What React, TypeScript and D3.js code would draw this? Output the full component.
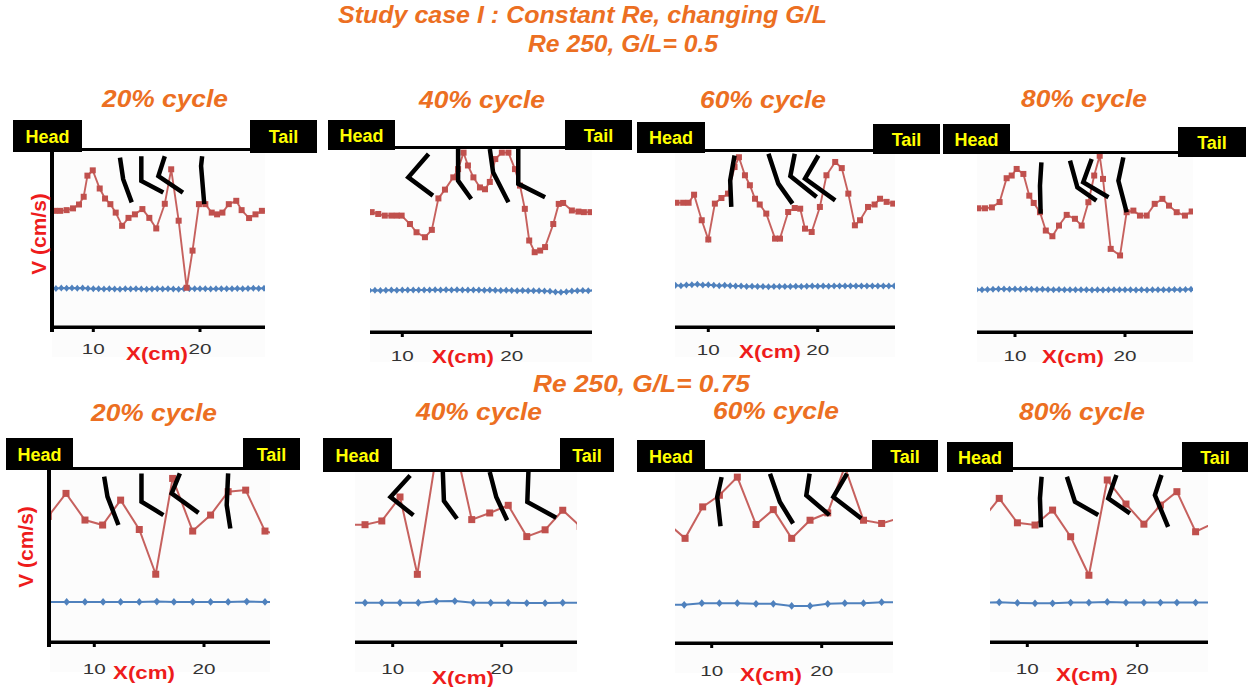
import React from 'react';
import * as d3 from 'd3';

// ---------- text ----------
const mainTitle = 'Study case I : Constant Re, changing G/L';
const caseTitles = ['Re 250, G/L= 0.5', 'Re 250, G/L= 0.75'];
const cycleLabels = ['20% cycle', '40% cycle', '60% cycle', '80% cycle'];
const xTicks = [10, 20];
const xAxisLabel = 'X(cm)';
const yAxisLabel = 'V (cm/s)';

// ---------- data (x in cm, V in plot units) ----------
const blueXTop = [6.0, 6.5, 7.0, 7.5, 8.0, 8.5, 9.0, 9.5, 10.0, 10.5, 11.0, 11.5, 12.0, 12.5, 13.0, 13.5, 14.0, 14.5, 15.0, 15.5, 16.0, 16.5, 17.0, 17.5, 18.0, 18.5, 19.0, 19.5, 20.0, 20.5, 21.0, 21.5, 22.0, 22.5, 23.0, 23.5, 24.0, 24.5, 25.0, 25.5, 26.0, 26.5, 27.0, 27.5];

const blueV_05_20 = [2.20, 2.19, 2.21, 2.20, 2.21, 2.20, 2.21, 2.19, 2.18, 2.17, 2.16, 2.17, 2.16, 2.15, 2.17, 2.16, 2.17, 2.16, 2.15, 2.16, 2.17, 2.16, 2.17, 2.16, 2.15, 2.17, 2.18, 2.17, 2.18, 2.17, 2.16, 2.17, 2.18, 2.17, 2.18, 2.19, 2.18, 2.19, 2.20, 2.19, 2.20, 2.19, 2.20, 2.19];
const blueV_05_40 = [2.27, 2.26, 2.27, 2.28, 2.27, 2.28, 2.29, 2.28, 2.29, 2.30, 2.29, 2.30, 2.29, 2.30, 2.31, 2.30, 2.31, 2.30, 2.31, 2.30, 2.29, 2.30, 2.29, 2.28, 2.29, 2.28, 2.27, 2.28, 2.27, 2.26, 2.27, 2.26, 2.25, 2.26, 2.24, 2.22, 2.19, 2.17, 2.20, 2.24, 2.26, 2.27, 2.26, 2.27];
const blueV_05_60 = [2.36, 2.37, 2.38, 2.36, 2.40, 2.42, 2.44, 2.40, 2.41, 2.38, 2.36, 2.38, 2.36, 2.35, 2.34, 2.32, 2.33, 2.31, 2.32, 2.30, 2.31, 2.32, 2.31, 2.32, 2.33, 2.32, 2.33, 2.34, 2.33, 2.34, 2.33, 2.34, 2.35, 2.34, 2.35, 2.34, 2.35, 2.34, 2.35, 2.34, 2.35, 2.34, 2.35, 2.34];
const blueV_05_80 = [2.39, 2.38, 2.37, 2.39, 2.40, 2.42, 2.41, 2.40, 2.41, 2.40, 2.41, 2.40, 2.39, 2.40, 2.39, 2.38, 2.39, 2.38, 2.37, 2.38, 2.37, 2.38, 2.36, 2.37, 2.36, 2.37, 2.38, 2.37, 2.38, 2.37, 2.36, 2.37, 2.36, 2.37, 2.38, 2.37, 2.38, 2.39, 2.38, 2.39, 2.40, 2.39, 2.40, 2.39];

const red_05_20 = [[6.4, 6.6], [6.9, 6.6], [7.5, 6.64], [8.1, 6.74], [8.66, 6.96], [9.1, 7.4], [9.45, 8.6], [9.95, 8.9], [10.6, 7.87], [11.1, 7.3], [11.6, 6.98], [12.1, 6.5], [12.7, 5.75], [13.3, 6.2], [13.9, 6.4], [14.6, 6.7], [15.25, 6.2], [15.9, 5.6], [16.7, 7.0], [17.3, 8.96], [18.0, 6.04], [18.75, 2.23], [19.3, 4.34], [19.9, 6.98], [20.5, 6.98], [21.1, 6.5], [21.6, 6.4], [22.1, 6.5], [22.7, 6.98], [23.4, 7.17], [23.9, 6.64], [24.6, 6.19], [25.2, 6.4], [25.8, 6.6], [26.4, 6.55]];
const red_05_40 = [[6.8, 6.55], [7.2, 6.55], [7.8, 6.45], [8.4, 6.36], [9.0, 6.36], [9.5, 6.36], [9.94, 6.36], [10.7, 5.9], [11.3, 5.45], [12.07, 5.18], [12.7, 5.58], [13.3, 7.3], [13.9, 7.78], [14.66, 8.45], [15.1, 8.9], [15.6, 9.8], [16.0, 9.1], [16.5, 8.45], [17.1, 7.9], [17.56, 7.8], [18.0, 8.2], [18.5, 9.45], [19.1, 9.8], [19.7, 9.8], [20.3, 8.9], [20.76, 8.0], [21.2, 6.73], [21.6, 5.0], [22.1, 4.36], [22.6, 4.45], [23.05, 4.64], [23.8, 5.9], [24.3, 7.0], [24.7, 7.05], [25.5, 6.64], [26.1, 6.58], [26.6, 6.55], [27.2, 6.55]];
const red_05_60 = [[6.6, 7.1], [7.1, 7.1], [7.7, 7.1], [8.2, 7.1], [8.7, 7.56], [9.4, 6.1], [10.0, 5.0], [10.6, 7.05], [11.2, 7.37], [11.8, 7.62], [12.4, 9.14], [12.8, 9.7], [13.35, 8.67], [13.8, 8.1], [14.27, 7.33], [14.7, 7.0], [15.3, 6.48], [16.1, 5.05], [16.55, 5.05], [17.3, 6.57], [17.9, 6.8], [18.4, 6.76], [18.84, 5.62], [19.45, 5.43], [20.2, 6.86], [20.8, 8.67], [21.6, 9.43], [22.2, 9.08], [22.8, 7.62], [23.4, 5.81], [23.87, 6.1], [24.6, 6.86], [25.2, 7.0], [25.7, 7.33], [26.3, 7.15], [26.9, 7.05]];
const red_05_80 = [[6.2, 6.95], [6.67, 6.95], [7.27, 6.95], [7.9, 7.0], [8.6, 7.3], [9.24, 8.64], [9.7, 8.79], [10.15, 9.16], [10.76, 8.88], [11.3, 7.66], [11.7, 7.25], [12.27, 6.73], [12.8, 5.7], [13.4, 5.38], [14.0, 5.98], [14.7, 6.58], [15.45, 6.36], [16.06, 5.98], [16.67, 7.29], [17.2, 8.79], [17.7, 9.9], [18.0, 8.6], [18.7, 4.67], [19.55, 4.3], [20.15, 6.73], [20.76, 6.82], [21.36, 6.54], [21.97, 6.54], [22.7, 7.2], [23.4, 7.48], [24.0, 7.1], [24.7, 6.73], [25.45, 6.54], [26.06, 6.77], [26.6, 6.8]];

const blueX_075_20 = [5.8, 7.48, 9.15, 10.8, 12.4, 14.1, 15.7, 17.26, 18.97, 20.6, 22.2, 23.9, 25.56, 27.2];
const blueV_075_20 = [2.33, 2.33, 2.33, 2.33, 2.33, 2.33, 2.35, 2.33, 2.33, 2.33, 2.33, 2.35, 2.33, 2.33];
const blueX_075_40 = [6.0, 7.46, 9.0, 10.67, 12.35, 14.0, 15.7, 17.4, 18.99, 20.6, 22.3, 23.98, 25.6, 27.2];
const blueV_075_40 = [2.31, 2.31, 2.31, 2.31, 2.31, 2.39, 2.41, 2.31, 2.31, 2.31, 2.29, 2.29, 2.31, 2.31];
const blueX_075_60 = [6.0, 7.5, 9.1, 10.7, 12.33, 14.03, 15.6, 17.27, 18.94, 20.55, 22.1, 23.8, 25.45, 27.0];
const blueV_075_60 = [2.23, 2.23, 2.33, 2.33, 2.33, 2.29, 2.29, 2.17, 2.17, 2.29, 2.33, 2.33, 2.39, 2.39];
const blueX_075_80 = [6.0, 7.45, 9.1, 10.7, 12.3, 13.94, 15.6, 17.27, 18.97, 20.6, 22.1, 23.6, 25.3, 26.9];
const blueV_075_80 = [2.29, 2.31, 2.27, 2.25, 2.25, 2.29, 2.29, 2.33, 2.29, 2.29, 2.29, 2.29, 2.29, 2.29];

const red_075_20 = [[5.8, 7.3], [7.42, 8.64], [9.15, 7.09], [10.76, 6.8], [12.4, 8.25], [14.1, 6.54], [15.6, 3.94], [17.14, 9.51], [18.97, 6.45], [20.6, 7.38], [22.2, 8.74], [23.8, 8.83], [25.56, 6.45], [27.0, 6.2]];
const red_075_40 = [[6.0, 6.9], [7.46, 6.9], [9.0, 7.12], [10.67, 8.53], [12.26, 3.98], [13.9, 10.6], [16.0, 10.8], [17.25, 7.2], [18.9, 7.59], [20.6, 8.04], [22.3, 6.2], [23.98, 6.6], [25.6, 7.75], [27.2, 6.8]];
const red_075_60 = [[6.0, 7.0], [7.58, 6.12], [9.18, 7.96], [10.7, 8.64], [12.33, 9.7], [14.03, 6.93], [15.6, 7.8], [17.27, 6.12], [18.94, 7.18], [20.55, 7.61], [22.1, 10.3], [23.8, 7.18], [25.45, 6.99], [27.0, 7.3]];
const red_075_80 = [[6.0, 7.19], [7.45, 8.35], [9.1, 6.93], [10.7, 6.8], [12.3, 7.67], [13.94, 6.12], [15.6, 3.88], [17.27, 9.42], [18.97, 8.02], [20.6, 6.85], [22.1, 7.96], [23.6, 8.74], [25.3, 6.41], [26.9, 6.9]];

// fish body outlines (each fish: 3 points, head to tail)
const fish_05_20 = [[[12.5, 9.62], [12.8, 8.4], [13.6, 7.08]], [[14.5, 9.7], [14.5, 8.3], [16.56, 7.64]], [[16.7, 9.7], [16.1, 8.58], [18.4, 7.64]], [[20.2, 9.7], [20.1, 9.15], [20.4, 6.98]]];
const fish_05_40 = [[[12.4, 9.73], [10.55, 8.45], [12.8, 7.45]], [[15.1, 10.0], [15.1, 8.27], [16.3, 7.27]], [[18.0, 10.0], [18.3, 8.73], [19.7, 7.09]], [[20.6, 10.0], [20.6, 8.1], [23.05, 7.36]]];
const fish_05_60 = [[[12.4, 9.8], [12.0, 8.38], [12.1, 6.86]], [[15.5, 9.9], [16.4, 8.19], [17.7, 7.05]], [[17.9, 9.9], [17.5, 8.63], [19.9, 7.43]], [[20.06, 9.8], [18.84, 8.48], [21.6, 7.24]]];
const fish_05_80 = [[[12.4, 9.53], [12.27, 8.22], [12.33, 6.64]], [[15.0, 9.63], [15.67, 8.13], [17.4, 7.38]], [[16.97, 9.72], [16.2, 8.41], [18.5, 7.57]], [[19.85, 9.81], [19.4, 8.5], [20.15, 6.73]]];
const fish_075_20 = [[[10.9, 9.61], [11.2, 8.45], [12.2, 6.8]], [[14.3, 9.8], [14.3, 8.16], [16.3, 7.38]], [[17.8, 9.8], [17.05, 8.64], [19.5, 7.51]], [[22.2, 9.8], [22.07, 7.96], [22.4, 6.6]]];
const fish_075_40 = [[[11.6, 9.8], [9.8, 8.53], [11.9, 7.45]], [[14.6, 10.0], [14.7, 8.3], [15.9, 7.25]], [[18.9, 10.0], [19.5, 8.53], [20.5, 7.16]], [[22.45, 10.0], [22.35, 8.24], [25.0, 7.31]]];
const fish_075_60 = [[[10.9, 9.7], [10.5, 8.54], [10.8, 6.83]], [[15.3, 9.9], [16.2, 8.25], [17.4, 6.99]], [[18.9, 9.9], [18.6, 8.64], [20.7, 7.48]], [[22.3, 9.9], [21.06, 8.54], [23.6, 7.28]]];
const fish_075_80 = [[[11.3, 9.61], [11.15, 8.35], [11.24, 6.66]], [[13.6, 9.61], [14.33, 8.16], [16.45, 7.38]], [[18.1, 9.71], [17.36, 8.35], [19.33, 7.48]], [[22.2, 9.71], [21.6, 8.54], [22.8, 6.7]]];

// ---------- layout (pixels) ----------
type Panel = {
  head: number[]; tail: number[]; lineY: number; axisY: number; t10: number; t20: number;
  xL: number; xR: number; yAxis?: number; xLab: number[]; yLab?: number[]; title: number[];
  tickLab: number; big: boolean;
  red: number[][]; blueX: number[]; blueV: number[]; fish: number[][][]; label: string;
};

const panels: Panel[] = [
  { head: [13, 120, 82, 152], tail: [250, 120, 317, 153], lineY: 151, axisY: 327, t10: 93.3, t20: 200, xL: 52, xR: 265, yAxis: 52, xLab: [157, 360], yLab: [46, 234], title: [165, 107], tickLab: 354, big: false, red: red_05_20, blueX: blueXTop, blueV: blueV_05_20, fish: fish_05_20, label: cycleLabels[0] },
  { head: [328, 120, 395, 150], tail: [565, 120, 632, 150], lineY: 149, axisY: 332, t10: 402.3, t20: 511.7, xL: 370, xR: 592, xLab: [463, 363], title: [482, 108], tickLab: 361, big: false, red: red_05_40, blueX: blueXTop, blueV: blueV_05_40, fish: fish_05_40, label: cycleLabels[1] },
  { head: [637, 122, 705, 153], tail: [873, 124, 940, 154], lineY: 152, axisY: 327, t10: 708.3, t20: 817.7, xL: 675, xR: 895, xLab: [770, 358], title: [763, 108], tickLab: 355, big: false, red: red_05_60, blueX: blueXTop, blueV: blueV_05_60, fish: fish_05_60, label: cycleLabels[2] },
  { head: [943, 124, 1010, 154], tail: [1178, 127, 1246, 157], lineY: 154, axisY: 332, t10: 1015, t20: 1125, xL: 977, xR: 1193, xLab: [1073, 363], title: [1084, 107], tickLab: 361, big: false, red: red_05_80, blueX: blueXTop, blueV: blueV_05_80, fish: fish_05_80, label: cycleLabels[3] },
  { head: [6, 438, 73, 470], tail: [243, 438, 300, 470], lineY: 470, axisY: 642, t10: 94.3, t20: 204, xL: 50, xR: 270, yAxis: 49, xLab: [144, 679], yLab: [33, 547], title: [154, 421], tickLab: 674, big: true, red: red_075_20, blueX: blueX_075_20, blueV: blueV_075_20, fish: fish_075_20, label: cycleLabels[0] },
  { head: [323, 438, 392, 472], tail: [560, 438, 614, 472], lineY: 472, axisY: 642, t10: 392.7, t20: 501.7, xL: 355, xR: 577, xLab: [463, 684], title: [479, 420], tickLab: 674, big: true, red: red_075_40, blueX: blueX_075_40, blueV: blueV_075_40, fish: fish_075_40, label: cycleLabels[1] },
  { head: [637, 440, 705, 472], tail: [872, 440, 938, 472], lineY: 472, axisY: 643, t10: 711.7, t20: 821.7, xL: 675, xR: 893, xLab: [771, 681], title: [776, 419], tickLab: 676, big: true, red: red_075_60, blueX: blueX_075_60, blueV: blueV_075_60, fish: fish_075_60, label: cycleLabels[2] },
  { head: [947, 442, 1013, 472], tail: [1182, 442, 1248, 472], lineY: 470, axisY: 642, t10: 1027.3, t20: 1137.3, xL: 990, xR: 1208, xLab: [1087, 681], title: [1082, 420], tickLab: 674, big: true, red: red_075_80, blueX: blueX_075_80, blueV: blueV_075_80, fish: fish_075_80, label: cycleLabels[3] },
];

const ORANGE = '#EC6F22';
const RED_TXT = '#EE1C1C';
const RED = '#C0504D';
const BLUE = '#4F81BD';
const FONT = '"Liberation Sans", Arial, sans-serif';

function diamond(cx: number, cy: number, w: number, h: number) {
  return `M${cx},${cy - h}L${cx + w},${cy}L${cx},${cy + h}L${cx - w},${cy}Z`;
}

function PanelView({ p, i }: { p: Panel; i: number }) {
  const x = d3.scaleLinear().domain([10, 20]).range([p.t10, p.t20]);
  const y = d3.scaleLinear().domain([0, 10]).range([p.axisY, p.lineY]);
  const line = d3.line<number[]>().x(d => x(d[0])).y(d => y(d[1]));
  const blue = p.blueX.map((bx, k) => [bx, p.blueV[k]]);
  const clipId = `plotclip${i}`;
  const ms = p.big ? 3.5 : 3;
  const dw = p.big ? 3.3 : 2.9;
  const dh = p.big ? 3.9 : 3.5;
  const [hx0, hy0, hx1, hy1] = p.head;
  const [tx0, ty0, tx1, ty1] = p.tail;
  return (
    <g>
      <defs>
        <clipPath id={clipId}>
          <rect x={p.xL} y={p.lineY} width={p.xR - p.xL} height={p.axisY - p.lineY} />
        </clipPath>
      </defs>
      <rect x={p.xL} y={p.lineY} width={p.xR - p.xL} height={p.axisY - p.lineY + 30} fill="#fcfcfc" />
      <g clipPath={`url(#${clipId})`}>
        <path d={line(blue) || ''} fill="none" stroke={BLUE} strokeWidth={2} />
        {blue.map((d, k) => (
          <path key={k} d={diamond(x(d[0]), y(d[1]), dw, dh)} fill={BLUE} />
        ))}
        <path d={line(p.red) || ''} fill="none" stroke={RED} strokeWidth={p.big ? 2 : 1.9} opacity={0.9} />
        {p.red.map((d, k) => (
          <rect key={k} x={x(d[0]) - ms} y={y(d[1]) - ms} width={ms * 2} height={ms * 2} fill={RED} />
        ))}
        {p.fish.map((f, k) => (
          <path key={k} d={line(f) || ''} fill="none" stroke="#000" strokeWidth={4.5} strokeLinejoin="miter" strokeLinecap="butt" />
        ))}
      </g>
      {/* header bar */}
      <rect x={hx1 - 2} y={p.lineY - 3} width={tx0 - hx1 + 4} height={3} fill="#000" />
      <rect x={hx0} y={hy0} width={hx1 - hx0} height={hy1 - hy0} fill="#000" />
      <rect x={tx0} y={ty0} width={tx1 - tx0} height={ty1 - ty0} fill="#000" />
      <text x={(hx0 + hx1) / 2} y={(hy0 + hy1) / 2 + 6.5} textAnchor="middle" fill="#FFFF00" fontFamily={FONT} fontWeight="bold" fontSize={18}>Head</text>
      <text x={(tx0 + tx1) / 2} y={(ty0 + ty1) / 2 + 6.5} textAnchor="middle" fill="#FFFF00" fontFamily={FONT} fontWeight="bold" fontSize={18}>Tail</text>
      {/* x axis */}
      <rect x={p.xL} y={p.axisY - 1.5} width={p.xR - p.xL} height={3.5} fill="#000" />
      {xTicks.map(t => (
        <g key={t}>
          <rect x={x(t) - 1.5} y={p.axisY} width={3} height={5} fill="#000" />
          <text x={x(t)} y={p.tickLab} textAnchor="middle" fill="#333" fontFamily={FONT} fontSize={15} textLength={23} lengthAdjust="spacingAndGlyphs">{t}</text>
        </g>
      ))}
      <text x={p.xLab[0]} y={p.xLab[1]} textAnchor="middle" fill={RED_TXT} fontFamily={FONT} fontWeight="bold" fontSize={19} textLength={62} lengthAdjust="spacingAndGlyphs">{xAxisLabel}</text>
      {p.yAxis !== undefined && (
        <rect x={p.yAxis - 2} y={p.lineY - 2} width={4} height={p.axisY - p.lineY + 7} fill="#000" />
      )}
      {p.yLab && (
        <text transform={`translate(${p.yLab[0]},${p.yLab[1]}) rotate(-90)`} textAnchor="middle" fill={RED_TXT} fontFamily={FONT} fontWeight="bold" fontSize={21}>{yAxisLabel}</text>
      )}
      <text x={p.title[0]} y={p.title[1]} textAnchor="middle" fill={ORANGE} fontFamily={FONT} fontWeight="bold" fontStyle="italic" fontSize={24} textLength={126} lengthAdjust="spacingAndGlyphs">{p.label}</text>
    </g>
  );
}

export default function App() {
  return (
    <svg width={1256} height={687} viewBox="0 0 1256 687" style={{ position: 'absolute', left: 0, top: 0, display: 'block', background: '#fff' }}>
      <rect x={0} y={0} width={1256} height={687} fill="#fff" />
      <text x={582.5} y={23} textAnchor="middle" fill={ORANGE} fontFamily={FONT} fontWeight="bold" fontStyle="italic" fontSize={23} textLength={489} lengthAdjust="spacingAndGlyphs">{mainTitle}</text>
      <text x={623} y={52} textAnchor="middle" fill={ORANGE} fontFamily={FONT} fontWeight="bold" fontStyle="italic" fontSize={23} textLength={190} lengthAdjust="spacingAndGlyphs">{caseTitles[0]}</text>
      <text x={641.5} y={392} textAnchor="middle" fill={ORANGE} fontFamily={FONT} fontWeight="bold" fontStyle="italic" fontSize={23} textLength={217} lengthAdjust="spacingAndGlyphs">{caseTitles[1]}</text>
      {panels.map((p, i) => (
        <PanelView key={i} p={p} i={i} />
      ))}
    </svg>
  );
}
